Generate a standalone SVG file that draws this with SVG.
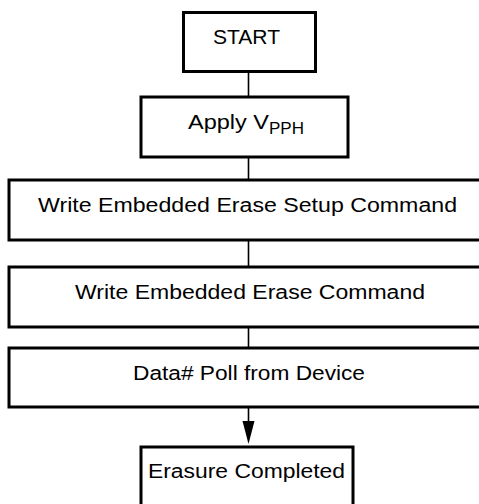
<svg xmlns="http://www.w3.org/2000/svg" width="479" height="504" viewBox="0 0 479 504">
<style>
.box{fill:#fff;stroke:#000;stroke-width:3}
.t{font-family:"Liberation Sans",Arial,sans-serif;font-size:20px;fill:#000}
.c{stroke:#000;stroke-width:1.6;fill:none}
</style>
<rect width="479" height="504" fill="#fff"/>
<g id="connectors">
<line class="c" x1="248.5" y1="72" x2="248.5" y2="97"/>
<line class="c" x1="248.5" y1="157" x2="248.5" y2="180"/>
<line class="c" x1="248.5" y1="240" x2="248.5" y2="267"/>
<line class="c" x1="248.5" y1="327" x2="248.5" y2="348"/>
<line class="c" x1="248.5" y1="407" x2="248.5" y2="424"/>
<polygon points="242.5,421 254.5,421 248.5,444" fill="#000"/>
</g>
<g id="start">
<rect class="box" x="183.5" y="12.5" width="132" height="59"/>
<text class="t" x="213" y="44" textLength="67" lengthAdjust="spacingAndGlyphs">START</text>
</g>
<g id="apply">
<rect class="box" x="141" y="97" width="207" height="60"/>
<text class="t" x="188" y="129"><tspan textLength="81" lengthAdjust="spacingAndGlyphs">Apply V</tspan><tspan font-size="16" dy="5" textLength="35" lengthAdjust="spacingAndGlyphs">PPH</tspan></text>
</g>
<g id="setup">
<rect class="box" x="9" y="180" width="479" height="60"/>
<text class="t" x="38" y="212" textLength="419" lengthAdjust="spacingAndGlyphs">Write Embedded Erase Setup Command</text>
</g>
<g id="erase">
<rect class="box" x="9" y="267" width="479" height="60"/>
<text class="t" x="75" y="299" textLength="350" lengthAdjust="spacingAndGlyphs">Write Embedded Erase Command</text>
</g>
<g id="poll">
<rect class="box" x="9" y="348" width="479" height="59"/>
<text class="t" x="133" y="380" textLength="232" lengthAdjust="spacingAndGlyphs">Data# Poll from Device</text>
</g>
<g id="done">
<rect class="box" x="141" y="447" width="212" height="70"/>
<text class="t" x="148" y="478" textLength="197" lengthAdjust="spacingAndGlyphs">Erasure Completed</text>
</g>
</svg>
